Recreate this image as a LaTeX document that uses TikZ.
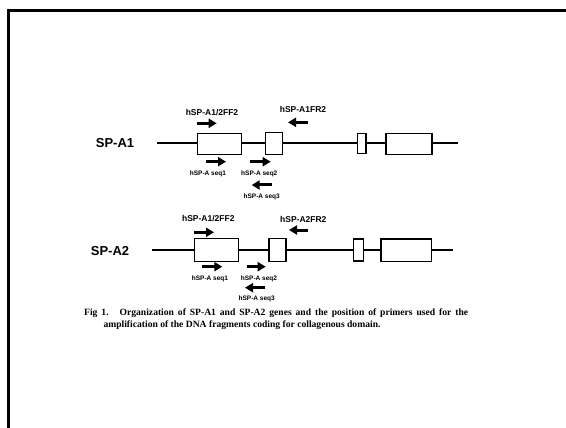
\documentclass[tikz,border=0pt]{standalone}
\usepackage{fontspec}
\setmainfont{Liberation Serif}
\newfontfamily\arialf{Liberation Sans}
\usetikzlibrary{arrows.meta}
\begin{document}
\begin{tikzpicture}[x=1pt,y=-1pt,
  gene/.style={line width=1.5pt},
  exon/.style={draw,line width=1.1pt,fill=white,inner sep=0pt,minimum height=21pt},
  primer/.style={line width=3pt,-{Triangle[length=8pt,width=9pt]}},
  genelabel/.style={font=\arialf\bfseries\fontsize{13}{13}\selectfont,inner sep=0pt},
  biglabel/.style={font=\arialf\bfseries\fontsize{8.5}{8.5}\selectfont,inner sep=0pt},
  smalllabel/.style={font=\arialf\bfseries\fontsize{6.5}{6.5}\selectfont,inner sep=0pt},
  frame/.style={line width=3pt},
  captionstyle/.style={font=\bfseries\fontsize{9.6}{9.6}\selectfont,inner sep=0pt,anchor=west}]
\useasboundingbox (0,0) rectangle (566,428);
\fill[white] (0,0) rectangle (566,428);
% frame
\coordinate (ftl) at (8.5,10.5);
\coordinate (ftr) at (566,10.5);
\coordinate (fbl) at (8.5,428);
\draw[frame] (ftr) -- (ftl) -- (fbl);

% ---------- SP-A1 ----------
\node[genelabel] (l1) at (115,143) {SP-A1};
\coordinate (a1s) at (157,143);
\coordinate (a1e) at (458,143);
\draw[gene] (a1s) -- (a1e);
\node[exon,minimum width=44pt] (a1x1) at (219.7,143.7) {};
\node[exon,minimum width=16.6pt,minimum height=22pt] (a1x2) at (274,143.7) {};
\node[exon,minimum width=8.3pt,minimum height=20pt] (a1x3) at (361.8,143.3) {};
\node[exon,minimum width=46pt] (a1x4) at (409,143.7) {};
% primers
\coordinate (a1p1s) at (196.7,123.3); \coordinate (a1p1e) at (216.7,123.3);
\coordinate (a1p2s) at (308,122.3);   \coordinate (a1p2e) at (288,122.3);
\coordinate (a1p3s) at (206,161.7);   \coordinate (a1p3e) at (226,161.7);
\coordinate (a1p4s) at (250,161.7);   \coordinate (a1p4e) at (270.7,161.7);
\coordinate (a1p5s) at (272.3,185);   \coordinate (a1p5e) at (251.7,185);
\draw[primer] (a1p1s) -- (a1p1e);
\draw[primer] (a1p2s) -- (a1p2e);
\draw[primer] (a1p3s) -- (a1p3e);
\draw[primer] (a1p4s) -- (a1p4e);
\draw[primer] (a1p5s) -- (a1p5e);
\node[biglabel] (a1t1) at (212,112.7) {hSP-A1/2FF2};
\node[biglabel] (a1t2) at (303,109.3) {hSP-A1FR2};
\node[smalllabel] (a1t3) at (208,174.3) {hSP-A seq1};
\node[smalllabel] (a1t4) at (259.3,174.3) {hSP-A seq2};
\node[smalllabel] (a1t5) at (261.7,197.3) {hSP-A seq3};

% ---------- SP-A2 ----------
\node[genelabel] (l2) at (110,250.7) {SP-A2};
\coordinate (a2s) at (151.7,250);
\coordinate (a2e) at (453.3,250);
\draw[gene] (a2s) -- (a2e);
\node[exon,minimum width=44.3pt,minimum height=22.7pt] (a2x1) at (216.2,249.7) {};
\node[exon,minimum width=17pt,minimum height=22.7pt] (a2x2) at (277.5,249.7) {};
\node[exon,minimum width=10pt,minimum height=22pt] (a2x3) at (358.3,250) {};
\node[exon,minimum width=50.7pt,minimum height=22.7pt] (a2x4) at (406.3,250.3) {};
\coordinate (a2p1s) at (194,232.3);   \coordinate (a2p1e) at (214,232.3);
\coordinate (a2p2s) at (308.3,230);   \coordinate (a2p2e) at (289,230);
\coordinate (a2p3s) at (201.7,266.7); \coordinate (a2p3e) at (222.3,266.7);
\coordinate (a2p4s) at (246.7,266.7); \coordinate (a2p4e) at (265.7,266.7);
\coordinate (a2p5s) at (265,287.7);   \coordinate (a2p5e) at (245,287.7);
\draw[primer] (a2p1s) -- (a2p1e);
\draw[primer] (a2p2s) -- (a2p2e);
\draw[primer] (a2p3s) -- (a2p3e);
\draw[primer] (a2p4s) -- (a2p4e);
\draw[primer] (a2p5s) -- (a2p5e);
\node[biglabel] (a2t1) at (208.3,219) {hSP-A1/2FF2};
\node[biglabel] (a2t2) at (303.3,219) {hSP-A2FR2};
\node[smalllabel] (a2t3) at (210,279.3) {hSP-A seq1};
\node[smalllabel] (a2t4) at (259,279.3) {hSP-A seq2};
\node[smalllabel] (a2t5) at (256.7,299.3) {hSP-A seq3};

% ---------- caption ----------
\node[captionstyle] (cap1) at (84,313.3) {\makebox[384pt][s]{Fig 1.\hspace{11pt}Organization of SP-A1 and SP-A2 genes and the position of primers used for the}};
\node[captionstyle] (cap2) at (103.3,324.8) {\makebox[277pt][s]{amplification of the DNA fragments coding for collagenous domain.}};
\end{tikzpicture}
\end{document}
